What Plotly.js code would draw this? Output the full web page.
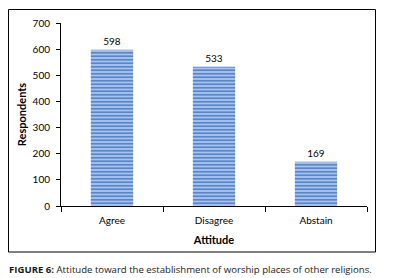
<!DOCTYPE html>
<html><head><meta charset="utf-8">
<script src="https://cdn.plot.ly/plotly-3.0.1.min.js"></script>
<style>body{margin:0;background:#fff}#c{width:393px;height:278px}</style>
</head><body><div id="c"></div>
<script>
const categories = ["Agree", "Disagree", "Abstain"];
const respondents = [598, 533, 169];
const yTicks = [0, 100, 200, 300, 400, 500, 600, 700];
const captionBold = "FIGURE 6:";
const captionText = " Attitude toward the establishment of worship places of other religions.";

const W = 393, H = 278, L = 61, R = 367, T = 23, B = 206;
const px = x => (x - L) / (R - L);
const py = y => (B - y) / (B - T);
const font = "Lato, 'Open Sans', sans-serif";

Plotly.newPlot("c", [{
  type: "bar",
  x: categories,
  y: respondents,
  text: respondents.map(String),
  textposition: "outside",
  textfont: {family: font, size: 10, color: "#000"},
  cliponaxis: false,
  marker: {
    color: "#a9c3ea",
    line: {width: 0},
    pattern: {shape: "-", size: 3.5, solidity: 0.45, fgcolor: "#4f7fc9", bgcolor: "#a9c3ea", fillmode: "replace"}
  },
  hoverinfo: "none"
}], {
  width: W, height: H,
  margin: {l: L, r: W - R, t: T, b: H - B, pad: 0},
  paper_bgcolor: "#fff", plot_bgcolor: "#fff",
  bargap: 0.585,
  showlegend: false,
  font: {family: font, size: 10, color: "#000"},
  xaxis: {
    showline: true, linecolor: "#000", linewidth: 1,
    ticks: "outside", ticklen: 5, tickcolor: "#000", tickson: "boundaries",
    ticklabelstandoff: 5,
    showgrid: false, zeroline: false,
    tickfont: {family: font, size: 10},
    title: {text: "<b>Attitude</b>", font: {family: font, size: 11}, standoff: 11}
  },
  yaxis: {
    range: [0, 700], tickvals: yTicks,
    showline: true, linecolor: "#000", linewidth: 1,
    ticks: "outside", ticklen: 4, tickcolor: "#000",
    ticklabelstandoff: 4,
    showgrid: false, zeroline: false,
    tickfont: {family: font, size: 10},
    title: {text: "<b>Respondents</b>", font: {family: font, size: 11}, standoff: 3}
  },
  shapes: [{
    type: "rect", xref: "paper", yref: "paper",
    x0: px(8.5), x1: px(375.5), y0: py(252), y1: py(9.5),
    line: {color: "#000", width: 1}, fillcolor: "rgba(0,0,0,0)", layer: "below"
  }],
  annotations: [{
    xref: "paper", yref: "paper", x: px(7), y: py(269),
    xanchor: "left", yanchor: "middle", showarrow: false,
    text: "<b>" + captionBold + "</b>" + captionText,
    font: {family: "'Open Sans', sans-serif", size: 9.6, color: "#1a1a1a"}
  }]
}, {staticPlot: true, displayModeBar: false});
</script>
</body></html>
